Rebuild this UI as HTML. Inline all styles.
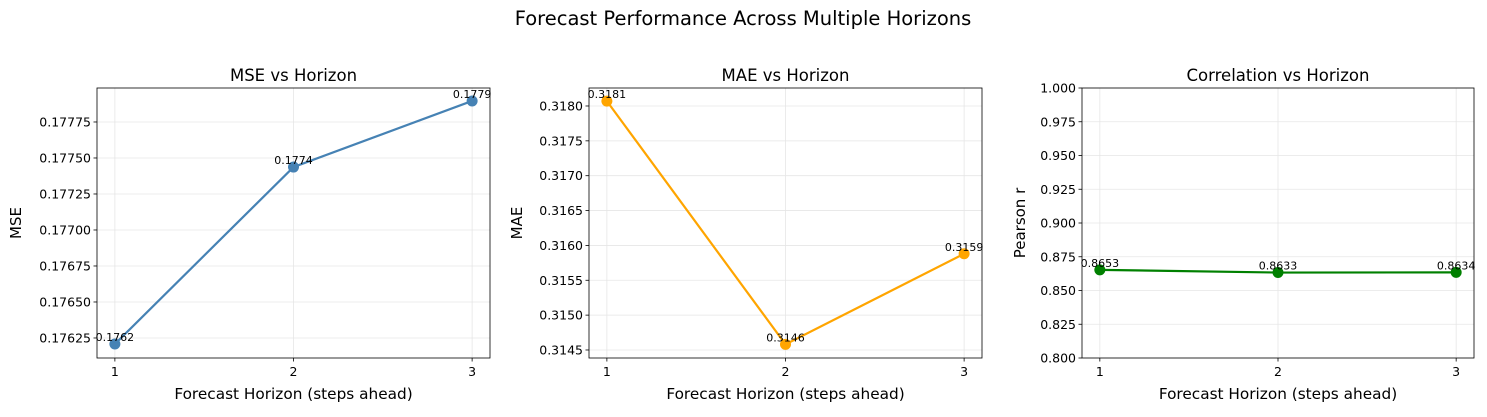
<!DOCTYPE html>
<html><head><meta charset="utf-8"><style>
body{margin:0;background:#fff;width:1487px;height:412px;overflow:hidden;font-family:"Liberation Sans","DejaVu Sans",sans-serif}
svg text{font-family:"DejaVu Sans","Liberation Sans",sans-serif}
</style></head><body>
<svg id="chart" width="1487" height="412" xmlns="http://www.w3.org/2000/svg">
<text x="743" y="25" text-anchor="middle" font-size="19.5" fill="#000">Forecast Performance Across Multiple Horizons</text>
</svg>
<script>
const horizons=[1,2,3];
const mseValues=[0.176208,0.177437,0.177896];
const maeValues=[0.31807,0.31458,0.31588];
const corrValues=[0.8653,0.8633,0.8634];
const mseTicks=[0.17625,0.17650,0.17675,0.17700,0.17725,0.17750,0.17775];
const maeTicks=[0.3145,0.3150,0.3155,0.3160,0.3165,0.3170,0.3175,0.3180];
const corrTicks=[0.800,0.825,0.850,0.875,0.900,0.925,0.950,0.975,1.000];
const mseTickLabels=["0.17625","0.17650","0.17675","0.17700","0.17725","0.17750","0.17775"];
const maeTickLabels=["0.3145","0.3150","0.3155","0.3160","0.3165","0.3170","0.3175","0.3180"];
const corrTickLabels=["0.800","0.825","0.850","0.875","0.900","0.925","0.950","0.975","1.000"];
const svgEl=document.getElementById('chart');
const NS='http://www.w3.org/2000/svg';
function mk(tag,attrs,parent){const e=document.createElementNS(NS,tag);for(const k in attrs)e.setAttribute(k,attrs[k]);(parent||svgEl).appendChild(e);return e;}
const panels=[
 {key:'mse',title:'MSE vs Horizon',ylabel:'MSE',x0:97,x1:490,ymin:0.176111,ymax:0.177986,vals:mseValues,ticks:mseTicks,labels:mseTickLabels,color:'#4682b4'},
 {key:'mae',title:'MAE vs Horizon',ylabel:'MAE',x0:589,x1:982,ymin:0.314385,ymax:0.318258,vals:maeValues,ticks:maeTicks,labels:maeTickLabels,color:'#ffa500'},
 {key:'corr',title:'Correlation vs Horizon',ylabel:'Pearson r',x0:1082,x1:1474,ymin:0.8,ymax:1.0,vals:corrValues,ticks:corrTicks,labels:corrTickLabels,color:'#008000'}
];
const plotTop=88,plotBot=358;
panels.forEach(p=>{
 const g=mk('g',{});
 
 
 const w=p.x1-p.x0, pad=w*0.0455;
 const xs=v=>p.x0+pad+(v-1)/2*(w-2*pad);
 const ys=v=>plotBot-(v-p.ymin)/(p.ymax-p.ymin)*(plotBot-plotTop);
 p.ticks.forEach((t,i)=>{
  const y=ys(t);
  const gl=mk('line',{x1:p.x0,x2:p.x1,y1:y,y2:y,stroke:'#e6e6e6','stroke-width':0.8},g);
  
  
  mk('line',{x1:p.x0-3.5,x2:p.x0,y1:y,y2:y,stroke:'#000','stroke-width':0.8},g);
  const tl=mk('text',{x:p.x0-6,y:y+4.5,'text-anchor':'end','font-size':12.5,fill:'#000'},g);
  tl.textContent=p.labels[i];
  
  
 });
 horizons.forEach(h=>{
  const x=xs(h);
  mk('line',{x1:x,x2:x,y1:plotTop,y2:plotBot,stroke:'#e6e6e6','stroke-width':0.8},g);
  mk('line',{x1:x,x2:x,y1:plotBot,y2:plotBot+3.5,stroke:'#000','stroke-width':0.8},g);
  const tl=mk('text',{x:x,y:plotBot+18,'text-anchor':'middle','font-size':12.5,fill:'#000'},g);
  tl.textContent=h;
  
  
 });
 const pts=horizons.map((h,i)=>xs(h)+','+ys(p.vals[i])).join(' ');
 const line=mk('polyline',{points:pts,fill:'none',stroke:p.color,'stroke-width':2.2},g);
 
 
 horizons.forEach((h,i)=>{
  const c=mk('circle',{cx:xs(h),cy:ys(p.vals[i]),r:5.5,fill:p.color},g);
  
  
  const t=mk('text',{x:xs(h),y:ys(p.vals[i])-3,'text-anchor':'middle','font-size':11,fill:'#000'},g);
  t.textContent=p.vals[i].toFixed(4);
  
  
 });
 const fr=mk('rect',{x:p.x0,y:plotTop,width:w,height:plotBot-plotTop,fill:'none',stroke:'#000','stroke-width':0.8},g);
 
 
 const ti=mk('text',{x:(p.x0+p.x1)/2,y:81,'text-anchor':'middle','font-size':16.5,fill:'#000'},g);
 ti.textContent=p.title;
 
 
 const xl=mk('text',{x:(p.x0+p.x1)/2,y:399,'text-anchor':'middle','font-size':15.3,fill:'#000'},g);
 xl.textContent='Forecast Horizon (steps ahead)';
 
 
 const yx=p.x0-(p.key==='mse'?76:(p.key==='mae'?67:57)), yy=(plotTop+plotBot)/2;
 const yl=mk('text',{x:yx,y:yy,'text-anchor':'middle','font-size':15,fill:'#000',transform:'rotate(-90 '+yx+' '+yy+')'},g);
 yl.textContent=p.ylabel;
 
 
});
</script>
</body></html>
